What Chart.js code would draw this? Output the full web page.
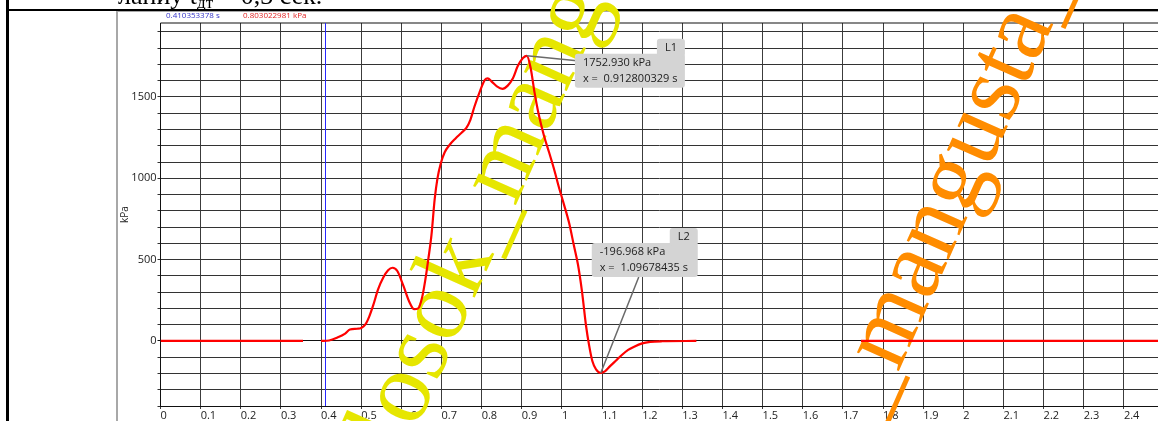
<!DOCTYPE html>
<html>
<head>
<meta charset="utf-8">
<script src="https://cdn.jsdelivr.net/npm/chart.js@4"></script>
<style>
  html, body { margin: 0; padding: 0; background: #fff; overflow: hidden; }
  canvas { display: block; }
</style>
</head>
<body>
<canvas id="chart" width="1158" height="421"></canvas>
<script>
// time, s  (null pressure = no samples recorded there)
const times = [
  0, 0.355, 0.378,
  0.400, 0.420, 0.440, 0.460, 0.472, 0.490, 0.500, 0.510, 0.520, 0.530, 0.542,
  0.555, 0.567, 0.578, 0.590, 0.605, 0.620, 0.632, 0.642, 0.652, 0.660, 0.667,
  0.675, 0.683, 0.690, 0.698, 0.708, 0.720, 0.735, 0.750, 0.762, 0.772, 0.782,
  0.795, 0.808, 0.815, 0.825, 0.838, 0.852, 0.865, 0.878, 0.890, 0.903, 0.9128,
  0.922, 0.932, 0.942, 0.955, 0.968, 0.980, 0.992, 1.005, 1.018, 1.030, 1.040,
  1.050, 1.060, 1.068, 1.076, 1.085, 1.0968, 1.108, 1.120, 1.135, 1.150, 1.165,
  1.180, 1.200, 1.220, 1.250, 1.335, 1.540,
  1.745, 2.485
];
// pressure, kPa
const pressure = [
  0, 0, null,
  0, 3, 20, 45, 70, 75, 80, 100, 150, 220, 317,
  390, 435, 450, 430, 340, 240, 195, 200, 270, 380, 500,
  650, 870, 1000, 1090, 1160, 1205, 1245, 1280, 1310, 1360, 1440,
  1530, 1605, 1615, 1595, 1565, 1550, 1570, 1615, 1690, 1740, 1752.93,
  1680, 1525, 1395, 1265, 1160, 1060, 950, 840, 725, 585, 470,
  305, 95, -30, -125, -175, -196.97, -185, -155, -120, -85, -55,
  -35, -15, -6, -2, 0, null,
  0, 0
];

const markerNames = ['L1', 'L2'];
const markerTimes = [0.912800329, 1.09678435];
const markerValues = [1752.930, -196.968];

const cursorTime = 0.410353378;
const cursorValue = 0.803022981;

const points = times.map((t, i) => ({ x: t, y: pressure[i] }));

function roundBox(c, x, y, w, h, r) {
  c.beginPath();
  if (c.roundRect) c.roundRect(x, y, w, h, r); else c.rect(x, y, w, h);
  c.fill();
}

function drawTag(c, px, py, name, lines, dx, dy, w) {
  const left = px + dx, top = py + dy, h = 34;
  c.fillStyle = '#d4d4d4';
  roundBox(c, left, top, w, h, 3);
  roundBox(c, left + w - 28, top - 15, 28, 18, 3);
  c.fillStyle = '#222';
  c.font = '11px "Open Sans"';
  c.textAlign = 'center';
  c.fillText(name, left + w - 14, top - 3);
  c.textAlign = 'left';
  c.fillText(lines[0], left + 8, top + 12);
  c.fillText(lines[1], left + 8, top + 28);
}

function drawWatermark(c, text, anchorChars, ax, ay, deg, size, color) {
  c.save();
  c.font = size + 'px "Liberation Serif"';
  const pre = c.measureText(text.slice(0, anchorChars)).width;
  const a = deg * Math.PI / 180;
  c.translate(ax - pre * Math.cos(a), ay - pre * Math.sin(a));
  c.rotate(a);
  c.fillStyle = color;
  c.textAlign = 'left';
  c.textBaseline = 'alphabetic';
  c.fillText(text, 0, 0);
  c.restore();
}

const overlay = {
  id: 'overlay',
  beforeDraw(chart) {
    const c = chart.ctx;
    c.save();
    c.fillStyle = '#fff';
    c.fillRect(0, 0, chart.width, chart.height);
    // page text above the figure (cut off)
    c.fillStyle = '#000';
    c.font = '26px "Liberation Serif"';
    c.textBaseline = 'alphabetic';
    c.fillText('ланиу t', 118, 4);
    let w = c.measureText('ланиу t').width;
    c.font = '17px "Liberation Serif"';
    c.fillText('дт', 118 + w, 8);
    w += c.measureText('дт').width;
    c.font = '26px "Liberation Serif"';
    c.fillText(' = 0,3 сек.', 118 + w, 4);
    // page frame
    c.fillStyle = '#000';
    c.fillRect(6, 0, 3, chart.height);
    c.fillRect(6, 9, chart.width - 6, 2);
    c.fillStyle = '#a8a8a8';
    c.fillRect(116, 11, 2, chart.height - 11);
    c.fillRect(117, 11, chart.width - 117, 1);
    // cursor read-outs
    c.font = '8px "Open Sans"';
    c.textBaseline = 'middle';
    c.fillStyle = '#3434c8';
    c.fillText(cursorTime.toFixed(9) + ' s', 166, 16);
    c.fillStyle = '#e02424';
    c.fillText(cursorValue.toFixed(9) + ' kPa', 243, 16);
    c.restore();
  },
  beforeDatasetsDraw(chart) {
    const c = chart.ctx, a = chart.chartArea, xs = chart.scales.x;
    c.save();
    c.beginPath();
    c.rect(0, 0, chart.width, chart.height);
    c.clip();
    // top border of plot
    c.fillStyle = '#111';
    c.fillRect(a.left, a.top - 0.5, a.right - a.left, 1);
    // watermarks
    drawWatermark(c, 'kolosok_mangusta', 8, 515, 207, -66, 102, '#e6e600');
    drawWatermark(c, '_mangusta_', 1, 898, 373, -66, 100, '#ff8c00');
    // cursor line
    const cx = Math.round(xs.getPixelForValue(cursorTime)) + 0.5;
    c.strokeStyle = '#2828ff';
    c.lineWidth = 1;
    c.beginPath();
    c.moveTo(cx, a.top);
    c.lineTo(cx, a.bottom);
    c.stroke();
    c.restore();
  },
  afterDatasetsDraw(chart) {
    const c = chart.ctx, xs = chart.scales.x, ys = chart.scales.y;
    c.save();
    const p = markerTimes.map((t, i) => [xs.getPixelForValue(t), ys.getPixelForValue(markerValues[i])]);
    c.strokeStyle = '#6a6a6a';
    c.lineWidth = 1.5;
    c.beginPath();
    c.moveTo(p[0][0], p[0][1]);
    c.lineTo(p[0][0] + 50, p[0][1] + 5);
    c.moveTo(p[1][0], p[1][1]);
    c.lineTo(p[1][0] + 38, p[1][1] - 96);
    c.stroke();
    markerNames.forEach((n, i) => {
      const lines = [markerValues[i].toFixed(3) + ' kPa', 'x =  ' + markerTimes[i] + ' s'];
      if (i === 0) drawTag(c, p[i][0], p[i][1], n, lines, 48, -2, 110);
      else drawTag(c, p[i][0], p[i][1], n, lines, -9, -130, 106);
    });
    c.restore();
  }
};

Chart.defaults.font.family = '"Open Sans", sans-serif';
Chart.defaults.font.size = 11;
Chart.defaults.color = '#222';

new Chart(document.getElementById('chart').getContext('2d'), {
  type: 'line',
  data: {
    datasets: [{
      label: 'kPa',
      data: points,
      borderColor: '#ff0000',
      borderWidth: 2.2,
      pointRadius: 0,
      cubicInterpolationMode: 'monotone',
      spanGaps: false,
      fill: false
    }]
  },
  options: {
    responsive: false,
    animation: false,
    devicePixelRatio: 1,
    layout: { padding: { left: 117, top: 23, right: 0, bottom: 0 } },
    plugins: { legend: { display: false }, tooltip: { enabled: false } },
    scales: {
      x: {
        type: 'linear',
        min: 0,
        max: 2.485,
        afterFit: s => { s.height = 15; },
        border: { color: '#111', width: 1 },
        grid: { color: '#3c3c3c', tickLength: 3 },
        ticks: {
          stepSize: 0.1,
          includeBounds: false,
          autoSkip: false,
          maxRotation: 0,
          align: 'start',
          padding: 0,
          callback: v => String(Number(v.toFixed(1)))
        }
      },
      y: {
        min: -400,
        max: 1955,
        afterFit: s => { s.width = 43.5; },
        border: { color: '#111', width: 1 },
        grid: {
          color: ctx => (ctx.tick && ctx.tick.value === 0 ? '#111' : '#333'),
          tickLength: 3
        },
        title: { display: true, text: 'kPa', font: { size: 10 }, padding: { top: 2, bottom: 0 } },
        ticks: {
          stepSize: 100,
          includeBounds: false,
          autoSkip: false,
          padding: 1,
          callback: v => (Math.round(v) % 500 === 0 ? String(Math.round(v)) : '')
        }
      }
    }
  },
  plugins: [overlay]
});
</script>
</body>
</html>
